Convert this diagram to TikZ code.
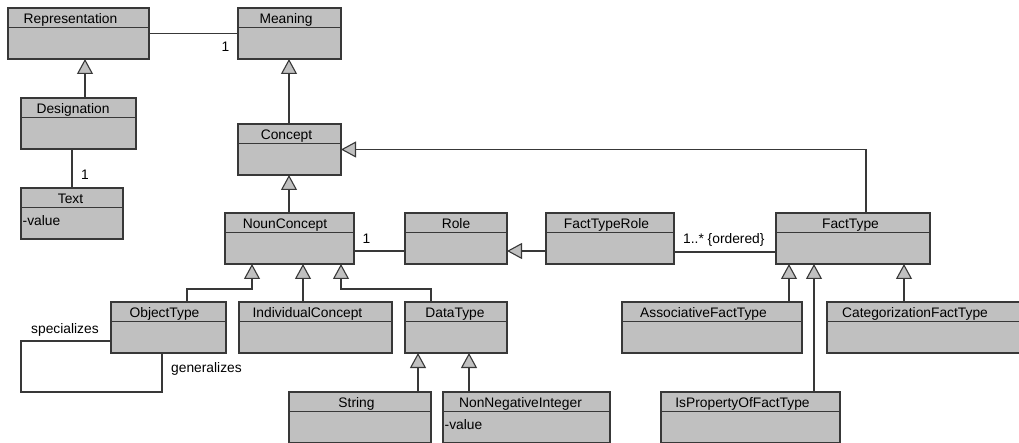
\documentclass[tikz,border=0pt]{standalone}
\usepackage{fontspec}
\setmainfont{Liberation Sans}
\usetikzlibrary{arrows.meta}

\definecolor{umlfill}{HTML}{C0C0C0}
\definecolor{umlline}{HTML}{383838}

\tikzset{
  classbox/.style={draw=umlline, fill=umlfill, line width=1.3pt, rectangle,
    minimum height=51pt, inner sep=0pt, outer sep=0pt},
  classline/.style={draw=umlline, line width=1.3pt},
  classtext/.style={font=\fontsize{13.8}{16}\selectfont, inner sep=0pt},
  gen/.style={draw=umlline, line width=1.1pt,
    -{Triangle[length=15pt, width=16pt, fill=umlfill, line width=1.1pt]}},
  assoc/.style={draw=umlline, line width=1.1pt}
}

% [title shift]{name}{left}{top}{width}{title}{attribute}
\newcommand{\umlclass}[7][-4]{%
  \node[classbox, minimum width=#5pt, anchor=north west] (#2) at (#3,#4) {};
  \draw[classline] ([yshift=-19.5]#2.north west) -- ([yshift=-19.5]#2.north east);
  \node[classtext, anchor=base] (#2-name) at ([xshift=#1, yshift=-15.5]#2.north) {#6};
  \if\relax\detokenize{#7}\relax\else
    \node[classtext, anchor=base west] (#2-attr) at ([xshift=1.5, yshift=-37.5]#2.north west) {#7};
  \fi
}

\begin{document}
\begin{tikzpicture}[x=1pt, y=-1pt]
\useasboundingbox (0,0) rectangle (1019,443);

\umlclass[-8]{rep}{8}{8}{141}{Representation}{}
\umlclass[-3.5]{mean}{238}{8}{103}{Meaning}{}
\umlclass[-5.5]{desig}{21}{98}{115}{Designation}{}
\umlclass[-1.5]{text}{21}{188}{102}{Text}{-value}
\umlclass[-3]{concept}{238}{124}{103}{Concept}{}
\umlclass[-4.5]{noun}{225}{213}{129}{NounConcept}{}
\umlclass[0]{role}{405}{213}{102}{Role}{}
\umlclass[-3.5]{ftrole}{546}{213}{128}{FactTypeRole}{}
\umlclass[-2.5]{facttype}{776}{213}{154}{FactType}{}
\umlclass[-4]{objtype}{111}{302}{115}{ObjectType}{}
\umlclass[-8]{indiv}{239}{302}{153}{IndividualConcept}{}
\umlclass[-1]{datatype}{405}{302}{102}{DataType}{}
\umlclass[-8.5]{assocft}{622}{302}{180}{AssociativeFactType}{}
\umlclass[-12]{categft}{827}{302}{200}{CategorizationFactType}{}
\umlclass[-3.5]{string}{289}{392}{142}{String}{}
\umlclass[-6]{nni}{443}{392}{167}{NonNegativeInteger}{-value}
\umlclass[-8]{isprop}{661}{392}{179}{IsPropertyOfFactType}{}

\draw[assoc] (rep.east) -- (mean.west);
\node[classtext, anchor=base] (rep-m) at (225.5,52) {1};
\draw[gen] (desig.north -| 85,0) -- (rep.south -| 85,0);
\draw[assoc] (text.north -| 72,0) -- (desig.south -| 72,0);
\node[classtext, anchor=base] (text-m) at (85,180) {1};
\draw[gen] (concept.north -| 289,0) -- (mean.south -| 289,0);
\draw[gen] (noun.north -| 289,0) -- (concept.south -| 289,0);
\draw[gen] (facttype.north -| 866,0) |- (concept.east);

\draw[assoc] (noun.east |- 0,251) -- (role.west |- 0,251);
\node[classtext, anchor=base] (noun-m) at (366.5,244) {1};
\draw[gen] (ftrole.west |- 0,251) -- (role.east |- 0,251);
\draw[assoc] (ftrole.east |- 0,252) -- (facttype.west |- 0,252);
\node[classtext, anchor=base west] (ftrole-m) at (683,244) {1..* \{ordered\}};

\draw[gen] (objtype.north -| 187,0) |- (252,289) -- (noun.south -| 252,0);
\draw[gen] (indiv.north -| 303,0) -- (noun.south -| 303,0);
\draw[gen] (datatype.north -| 431,0) |- (341,289) -- (noun.south -| 341,0);
\draw[assoc] (objtype.west |- 0,341) -| (21,392) -| (objtype.south -| 162,0);
\node[classtext, anchor=base west] (spec) at (31,333) {specializes};
\node[classtext, anchor=base west] (genz) at (171,372) {generalizes};

\draw[gen] (string.north -| 418,0) -- (datatype.south -| 418,0);
\draw[gen] (nni.north -| 469,0) -- (datatype.south -| 469,0);
\draw[gen] (assocft.north -| 789,0) -- (facttype.south -| 789,0);
\draw[gen] (isprop.north -| 814,0) -- (facttype.south -| 814,0);
\draw[gen] (categft.north -| 904,0) -- (facttype.south -| 904,0);
\end{tikzpicture}
\end{document}
